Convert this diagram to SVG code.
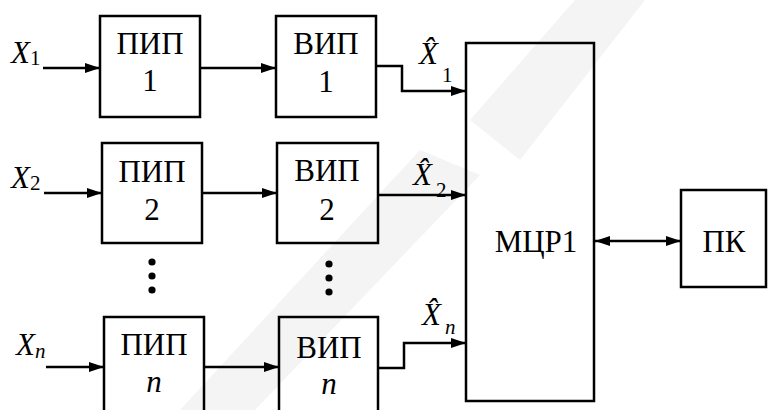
<svg xmlns="http://www.w3.org/2000/svg" width="768" height="410" viewBox="0 0 768 410" font-family="Liberation Serif, Times New Roman, Times, serif">
  <style>
    .box { fill: none; stroke: #000; stroke-width: 2.5; }
    .wire { fill: none; stroke: #000; stroke-width: 2.5; }
    .lbl { font-size: 31px; text-anchor: middle; }
    .var { font-size: 31px; font-style: italic; }
    .sub { font-size: 21px; font-style: normal; }
    .subi { font-size: 21px; font-style: italic; }
    .dot { fill: #000; }
    .wm { fill: #f4f4f4; }
  </style>
  <defs>
    <marker id="arr" markerWidth="16" markerHeight="12" refX="15" refY="6" orient="auto" markerUnits="userSpaceOnUse">
      <path d="M0,1 L15,6 L0,11 Z" fill="#000"/>
    </marker>
    <marker id="arrs" markerWidth="16" markerHeight="12" refX="0" refY="6" orient="auto" markerUnits="userSpaceOnUse">
      <path d="M15,1 L0,6 L15,11 Z" fill="#000"/>
    </marker>
  </defs>

  <rect width="768" height="410" fill="#fff"/>

  <!-- faint background emblem -->
  <g id="emblem">
    <polygon class="wm" points="575,0 645,0 520,160 470,120"/>
    <polygon class="wm" points="420,150 480,175 255,410 180,410"/>
  </g>

  <!-- connectors -->
  <g id="connectors">
    <line class="wire" x1="43" y1="68" x2="100" y2="68" marker-end="url(#arr)"/>
    <line class="wire" x1="200" y1="68" x2="276" y2="68" marker-end="url(#arr)"/>
    <polyline class="wire" points="376,66 402,66 402,91 466,91" marker-end="url(#arr)"/>

    <line class="wire" x1="44" y1="193" x2="102" y2="193" marker-end="url(#arr)"/>
    <line class="wire" x1="202" y1="193" x2="277" y2="193" marker-end="url(#arr)"/>
    <line class="wire" x1="378" y1="195" x2="466" y2="195" marker-end="url(#arr)"/>

    <line class="wire" x1="46" y1="367" x2="104" y2="367" marker-end="url(#arr)"/>
    <line class="wire" x1="204" y1="367" x2="279" y2="367" marker-end="url(#arr)"/>
    <polyline class="wire" points="378,368 404,368 404,343 466,343" marker-end="url(#arr)"/>

    <line class="wire" x1="595" y1="241" x2="681" y2="241" marker-start="url(#arrs)" marker-end="url(#arr)"/>
  </g>

  <!-- input labels -->
  <g id="inputs">
    <text class="var" x="11" y="63">X<tspan class="sub" dy="2">1</tspan></text>
    <text class="var" x="11" y="188">X<tspan class="sub" dy="2">2</tspan></text>
    <text class="var" x="16" y="355">X<tspan class="subi" dy="3">n</tspan></text>
  </g>

  <!-- estimate labels (X with circumflex) -->
  <g id="estimates">
    <text class="var" x="419" y="64">X&#x302;<tspan class="sub" dx="4" dy="18">1</tspan></text>
    <text class="var" x="413" y="185">X&#x302;<tspan class="sub" dx="4" dy="12">2</tspan></text>
    <text class="var" x="422" y="325">X&#x302;<tspan class="subi" dx="4" dy="9">n</tspan></text>
  </g>

  <g id="pip1">
    <rect class="box" x="100" y="16" width="100" height="101"/>
    <text class="lbl" x="150" y="54">ПИП</text>
    <text class="lbl" x="150" y="91">1</text>
  </g>
  <g id="vip1">
    <rect class="box" x="276" y="16" width="100" height="101"/>
    <text class="lbl" x="326" y="54">ВИП</text>
    <text class="lbl" x="326" y="92">1</text>
  </g>

  <g id="pip2">
    <rect class="box" x="102" y="143" width="100" height="100"/>
    <text class="lbl" x="152" y="182">ПИП</text>
    <text class="lbl" x="152" y="220">2</text>
  </g>
  <g id="vip2">
    <rect class="box" x="277" y="143" width="101" height="100"/>
    <text class="lbl" x="327" y="181">ВИП</text>
    <text class="lbl" x="327" y="220">2</text>
  </g>

  <g id="dots1">
    <circle class="dot" cx="152" cy="262" r="3.6"/>
    <circle class="dot" cx="152" cy="276" r="3.6"/>
    <circle class="dot" cx="152" cy="290" r="3.6"/>
  </g>
  <g id="dots2">
    <circle class="dot" cx="329" cy="264" r="3.6"/>
    <circle class="dot" cx="329" cy="278" r="3.6"/>
    <circle class="dot" cx="329" cy="292" r="3.6"/>
  </g>

  <g id="pipn">
    <rect class="box" x="104" y="317" width="100" height="110"/>
    <text class="lbl" x="154" y="355">ПИП</text>
    <text class="lbl" x="154" y="392" font-style="italic">n</text>
  </g>
  <g id="vipn">
    <rect class="box" x="279" y="317" width="99" height="110"/>
    <text class="lbl" x="329" y="358">ВИП</text>
    <text class="lbl" x="329" y="394" font-style="italic">n</text>
  </g>

  <g id="mcr1">
    <rect class="box" x="466" y="43" width="128" height="358"/>
    <text class="lbl" x="536" y="252">МЦР1</text>
  </g>

  <g id="pk">
    <rect class="box" x="681" y="190" width="85" height="97"/>
    <text class="lbl" x="724" y="252">ПК</text>
  </g>
</svg>
